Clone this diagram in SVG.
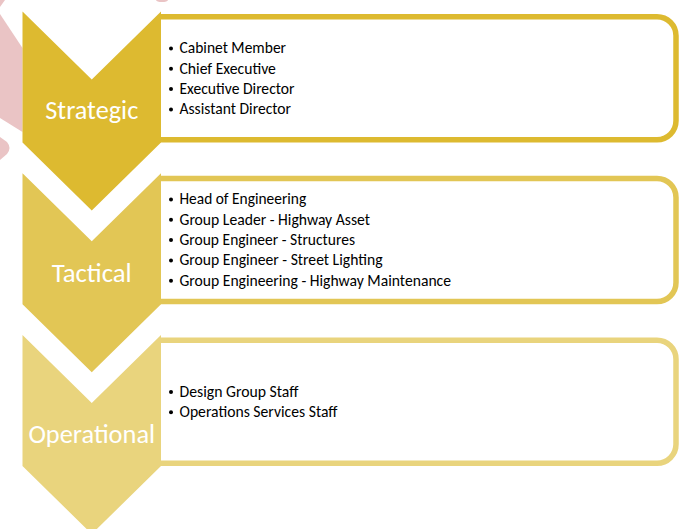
<svg xmlns="http://www.w3.org/2000/svg" width="685" height="529" viewBox="0 0 685 529">
  <defs>
    <style>
      .bg { fill: #ffffff; }
      .deco { fill: #eac4c5; }
      .box { fill: #ffffff; stroke-width: 5.5; stroke-linejoin: round; }
      .lvl1 { fill: #ddba30; }
      .lvl2 { fill: #e2c655; }
      .lvl3 { fill: #e9d47d; }
      .s1 { stroke: #ddba30; }
      .s2 { stroke: #e2c655; }
      .s3 { stroke: #e9d47d; }
      .label { font-family: Carlito, Calibri, Lato, "Liberation Sans", sans-serif; font-size: 26px; fill: #ffffff; text-anchor: middle; }
      .item { font-family: Carlito, Calibri, Lato, "Liberation Sans", sans-serif; font-size: 15.5px; fill: #000000; }
      .dot { fill: #000000; }
    </style>
  </defs>

  <rect class="bg" x="0" y="0" width="685" height="529"/>

  <!-- decorative background shapes at the upper left -->
  <g id="decoration">
    <polygon class="deco" points="0,0 5,0 0,7"/>
    <polygon class="deco" points="0,14 22.5,48 22.5,132 0,118"/>
    <path class="deco" d="M0,137 L7,142 Q12,148 7,154 L0,160 Z"/>
    <ellipse class="deco" cx="162" cy="0" rx="6" ry="2"/>
  </g>

  <!-- Level 1 -->
  <g id="strategic">
    <path class="box s1" d="M160,16.75 H657 A19,19 0 0 1 676,35.75 V120.75 A19,19 0 0 1 657,139.75 H160"/>
    <path class="lvl1" d="M22.5,11.5 L91.75,79.5 L161,11.5 V142.5 L91.75,210.5 L22.5,142.5 Z"/>
    <text class="label" x="91.75" y="119" textLength="93" lengthAdjust="spacingAndGlyphs">Strategic</text>
    <g class="item">
      <circle class="dot" cx="171" cy="48.5" r="2"/>
      <text x="179.5" y="53.3" textLength="106.5" lengthAdjust="spacingAndGlyphs">Cabinet Member</text>
      <circle class="dot" cx="171" cy="68.8" r="2"/>
      <text x="179.5" y="73.6" textLength="96.4" lengthAdjust="spacingAndGlyphs">Chief Executive</text>
      <circle class="dot" cx="171" cy="89.1" r="2"/>
      <text x="179.5" y="93.9" textLength="115" lengthAdjust="spacingAndGlyphs">Executive Director</text>
      <circle class="dot" cx="171" cy="109.4" r="2"/>
      <text x="179.5" y="114.2" textLength="111.5" lengthAdjust="spacingAndGlyphs">Assistant Director</text>
    </g>
  </g>

  <!-- Level 2 -->
  <g id="tactical">
    <path class="box s2" d="M160,178.5 H657 A19,19 0 0 1 676,197.5 V282.5 A19,19 0 0 1 657,301.5 H160"/>
    <path class="lvl2" d="M22.5,173.25 L91.75,241.25 L161,173.25 V304.25 L91.75,372.25 L22.5,304.25 Z"/>
    <text class="label" x="91.75" y="281.7" textLength="80" lengthAdjust="spacingAndGlyphs">Tactical</text>
    <g class="item">
      <circle class="dot" cx="171" cy="199.5" r="2"/>
      <text x="179.5" y="204.3" textLength="126.7" lengthAdjust="spacingAndGlyphs">Head of Engineering</text>
      <circle class="dot" cx="171" cy="219.8" r="2"/>
      <text x="179.5" y="224.6" textLength="190.5" lengthAdjust="spacingAndGlyphs">Group Leader - Highway Asset</text>
      <circle class="dot" cx="171" cy="240.1" r="2"/>
      <text x="179.5" y="244.9" textLength="175.5" lengthAdjust="spacingAndGlyphs">Group Engineer - Structures</text>
      <circle class="dot" cx="171" cy="260.4" r="2"/>
      <text x="179.5" y="265.2" textLength="203" lengthAdjust="spacingAndGlyphs">Group Engineer - Street Lighting</text>
      <circle class="dot" cx="171" cy="280.7" r="2"/>
      <text x="179.5" y="285.5" textLength="271.5" lengthAdjust="spacingAndGlyphs">Group Engineering - Highway Maintenance</text>
    </g>
  </g>

  <!-- Level 3 -->
  <g id="operational">
    <path class="box s3" d="M160,340.25 H657 A19,19 0 0 1 676,359.25 V444.25 A19,19 0 0 1 657,463.25 H160"/>
    <path class="lvl3" d="M22.5,335 L91.75,403 L161,335 V466 L91.75,534 L22.5,466 Z"/>
    <text class="label" x="91.75" y="443.3" textLength="126.7" lengthAdjust="spacingAndGlyphs">Operational</text>
    <g class="item">
      <circle class="dot" cx="171" cy="391.9" r="2"/>
      <text x="179.5" y="396.7" textLength="119" lengthAdjust="spacingAndGlyphs">Design Group Staff</text>
      <circle class="dot" cx="171" cy="412.2" r="2"/>
      <text x="179.5" y="417" textLength="158" lengthAdjust="spacingAndGlyphs">Operations Services Staff</text>
    </g>
  </g>

  <!-- no connectors in this diagram -->
  <g id="connectors"/>
</svg>
